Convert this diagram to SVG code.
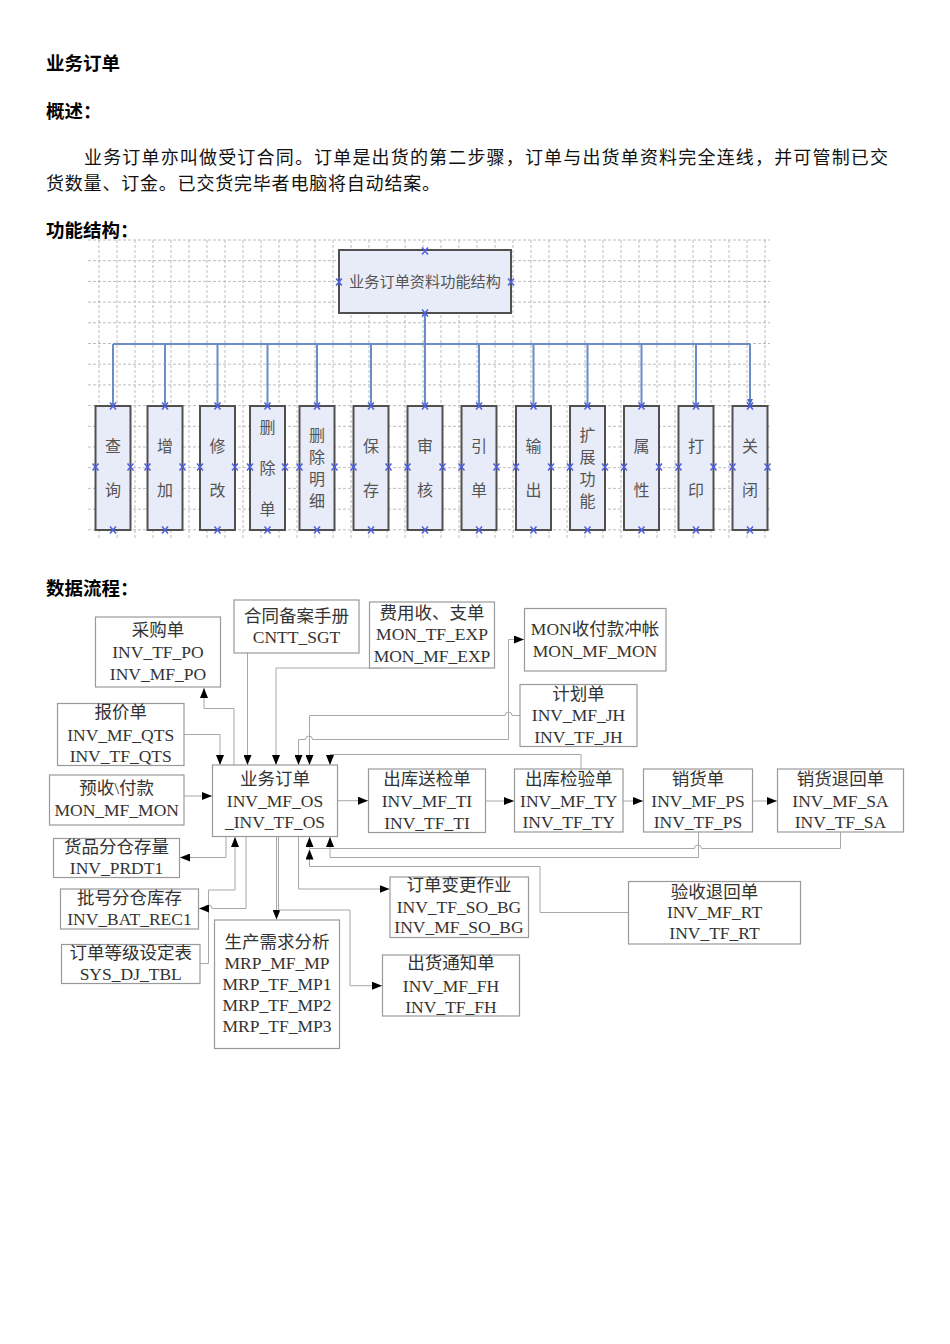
<svg xmlns="http://www.w3.org/2000/svg" xmlns:xlink="http://www.w3.org/1999/xlink" width="950" height="1344" viewBox="0 0 950 1344">
<style>
.hd{font-family:"Noto Sans CJK SC",sans-serif;font-weight:bold;font-size:18.5px;fill:#000}
.para{font-family:"Noto Sans CJK SC",sans-serif;font-size:18px;fill:#111}
.grid{fill:none;stroke:#bdbdbd;stroke-width:1;stroke-dasharray:3 2}
.fbox{fill:#e8ecf8;stroke:#505050;stroke-width:2}
.ft{font-family:"Noto Sans CJK SC",sans-serif;font-size:16px;fill:#555;text-anchor:middle}
.tree{fill:none;stroke:#6a8cc8;stroke-width:2}
.xm{fill:none;stroke:#4d5fe0;stroke-width:1.5}
.box{fill:#fff;stroke:#9a9a9a;stroke-width:1.2}
.t{font-family:"Liberation Serif","Noto Sans CJK SC",serif;font-size:17.5px;fill:#333;text-anchor:middle}
.c{fill:none;stroke:#a8a8a8;stroke-width:1}
.ca{fill:none;stroke:#a8a8a8;stroke-width:1;marker-end:url(#ah)}
</style>
<defs>
<marker id="ah" viewBox="0 0 10 8" refX="10" refY="4" markerWidth="10" markerHeight="8" markerUnits="userSpaceOnUse" orient="auto"><path d="M0,0L10,4L0,8z" fill="#000"/></marker>
<marker id="ba" viewBox="0 0 6 6" refX="6" refY="3" markerWidth="6" markerHeight="6" markerUnits="userSpaceOnUse" orient="auto"><path d="M0,0L6,3L0,6z" fill="#4a6fc0"/></marker>
<path id="x" d="M-3,-3.5L3,3.5M3,-3.5L-3,3.5"/>
</defs>

<g id="header">
<text class="hd" x="46" y="70">业务订单</text>
<text class="hd" x="46" y="118">概述：</text>
<text class="para" x="84" y="163.5" textLength="804" lengthAdjust="spacing">业务订单亦叫做受订合同。订单是出货的第二步骤，订单与出货单资料完全连线，并可管制已交</text>
<text class="para" x="46" y="189.5" textLength="394" lengthAdjust="spacing">货数量、订金。已交货完毕者电脑将自动结案。</text>
<text class="hd" x="46" y="237">功能结构：</text>
<text class="hd" x="46" y="595">数据流程：</text>
</g>

<g id="grid">
<path class="grid" d="M88 240H770M88 260.7H770M88 281.4H770M88 302.1H770M88 322.8H770M88 343.5H770M88 364.2H770M88 384.9H770M88 405.6H770M88 426.3H770M88 447H770M88 467.7H770M88 488.4H770M88 509.1H770M88 529.8H770"/>
<path class="grid" d="M99 240V540M117 240V540M135 240V540M153 240V540M171 240V540M189 240V540M207 240V540M225 240V540M243 240V540M261 240V540M279 240V540M297 240V540M315 240V540M333 240V540M351 240V540M369 240V540M387 240V540M405 240V540M423 240V540M441 240V540M459 240V540M477 240V540M495 240V540M513 240V540M531 240V540M549 240V540M567 240V540M585 240V540M603 240V540M621 240V540M639 240V540M657 240V540M675 240V540M693 240V540M711 240V540M729 240V540M747 240V540M765 240V540"/>
</g>

<g id="tree-connectors">
<path class="tree" d="M425 313V344M113 344H750"/>
<path class="tree" marker-end="url(#ba)" d="M113 344V405M165 344V405M217.5 344V405M267.5 344V405M317 344V405M371 344V405M425 344V405M479 344V405M533.5 344V405M587.5 344V405M641.5 344V405M696 344V405M750 344V405"/>
</g>

<g id="f-root">
<rect class="fbox" x="339" y="250" width="172" height="63"/>
<text class="ft" x="425" y="286.5" style="font-size:15.2px">业务订单资料功能结构</text>
<g class="xm"><use xlink:href="#x" x="425" y="251"/><use xlink:href="#x" x="339" y="282"/><use xlink:href="#x" x="511" y="282"/><use xlink:href="#x" x="425" y="313"/></g>
</g>

<g id="f-query"><rect class="fbox" x="95.5" y="406" width="35" height="124"/><text class="ft" x="113" y="452">查</text><text class="ft" x="113" y="496">询</text></g>
<g id="f-add"><rect class="fbox" x="147.5" y="406" width="35" height="124"/><text class="ft" x="165" y="452">增</text><text class="ft" x="165" y="496">加</text></g>
<g id="f-edit"><rect class="fbox" x="200" y="406" width="35" height="124"/><text class="ft" x="217.5" y="452">修</text><text class="ft" x="217.5" y="496">改</text></g>
<g id="f-delorder"><rect class="fbox" x="250" y="406" width="35" height="124"/><text class="ft" x="267.5" y="433">删</text><text class="ft" x="267.5" y="474">除</text><text class="ft" x="267.5" y="515">单</text></g>
<g id="f-deldetail"><rect class="fbox" x="299.5" y="406" width="35" height="124"/><text class="ft" x="317" y="441">删</text><text class="ft" x="317" y="463">除</text><text class="ft" x="317" y="485">明</text><text class="ft" x="317" y="507">细</text></g>
<g id="f-save"><rect class="fbox" x="353.5" y="406" width="35" height="124"/><text class="ft" x="371" y="452">保</text><text class="ft" x="371" y="496">存</text></g>
<g id="f-audit"><rect class="fbox" x="407.5" y="406" width="35" height="124"/><text class="ft" x="425" y="452">审</text><text class="ft" x="425" y="496">核</text></g>
<g id="f-ref"><rect class="fbox" x="461.5" y="406" width="35" height="124"/><text class="ft" x="479" y="452">引</text><text class="ft" x="479" y="496">单</text></g>
<g id="f-output"><rect class="fbox" x="516" y="406" width="35" height="124"/><text class="ft" x="533.5" y="452">输</text><text class="ft" x="533.5" y="496">出</text></g>
<g id="f-ext"><rect class="fbox" x="570" y="406" width="35" height="124"/><text class="ft" x="587.5" y="441">扩</text><text class="ft" x="587.5" y="463">展</text><text class="ft" x="587.5" y="485">功</text><text class="ft" x="587.5" y="507">能</text></g>
<g id="f-prop"><rect class="fbox" x="624" y="406" width="35" height="124"/><text class="ft" x="641.5" y="452">属</text><text class="ft" x="641.5" y="496">性</text></g>
<g id="f-print"><rect class="fbox" x="678.5" y="406" width="35" height="124"/><text class="ft" x="696" y="452">打</text><text class="ft" x="696" y="496">印</text></g>
<g id="f-close"><rect class="fbox" x="732.5" y="406" width="35" height="124"/><text class="ft" x="750" y="452">关</text><text class="ft" x="750" y="496">闭</text></g>

<g id="f-markers" class="xm">
<use xlink:href="#x" x="113" y="406"/><use xlink:href="#x" x="113" y="530"/><use xlink:href="#x" x="95.5" y="467"/><use xlink:href="#x" x="130.5" y="467"/>
<use xlink:href="#x" x="165" y="406"/><use xlink:href="#x" x="165" y="530"/><use xlink:href="#x" x="147.5" y="467"/><use xlink:href="#x" x="182.5" y="467"/>
<use xlink:href="#x" x="217.5" y="406"/><use xlink:href="#x" x="217.5" y="530"/><use xlink:href="#x" x="200" y="467"/><use xlink:href="#x" x="235" y="467"/>
<use xlink:href="#x" x="267.5" y="406"/><use xlink:href="#x" x="267.5" y="530"/><use xlink:href="#x" x="250" y="467"/><use xlink:href="#x" x="285" y="467"/>
<use xlink:href="#x" x="317" y="406"/><use xlink:href="#x" x="317" y="530"/><use xlink:href="#x" x="299.5" y="467"/><use xlink:href="#x" x="334.5" y="467"/>
<use xlink:href="#x" x="371" y="406"/><use xlink:href="#x" x="371" y="530"/><use xlink:href="#x" x="353.5" y="467"/><use xlink:href="#x" x="388.5" y="467"/>
<use xlink:href="#x" x="425" y="406"/><use xlink:href="#x" x="425" y="530"/><use xlink:href="#x" x="407.5" y="467"/><use xlink:href="#x" x="442.5" y="467"/>
<use xlink:href="#x" x="479" y="406"/><use xlink:href="#x" x="479" y="530"/><use xlink:href="#x" x="461.5" y="467"/><use xlink:href="#x" x="496.5" y="467"/>
<use xlink:href="#x" x="533.5" y="406"/><use xlink:href="#x" x="533.5" y="530"/><use xlink:href="#x" x="516" y="467"/><use xlink:href="#x" x="551" y="467"/>
<use xlink:href="#x" x="587.5" y="406"/><use xlink:href="#x" x="587.5" y="530"/><use xlink:href="#x" x="570" y="467"/><use xlink:href="#x" x="605" y="467"/>
<use xlink:href="#x" x="641.5" y="406"/><use xlink:href="#x" x="641.5" y="530"/><use xlink:href="#x" x="624" y="467"/><use xlink:href="#x" x="659" y="467"/>
<use xlink:href="#x" x="696" y="406"/><use xlink:href="#x" x="696" y="530"/><use xlink:href="#x" x="678.5" y="467"/><use xlink:href="#x" x="713.5" y="467"/>
<use xlink:href="#x" x="750" y="406"/><use xlink:href="#x" x="750" y="530"/><use xlink:href="#x" x="732.5" y="467"/><use xlink:href="#x" x="767.5" y="467"/>
</g>

<g id="connectors">
<path class="ca" d="M234 765V708.5H204V688"/>
<path class="ca" d="M247.5 653V765"/>
<path class="ca" d="M381.5 645V668H276V765"/>
<path class="ca" d="M184 734.5H220V765"/>
<path class="ca" d="M508.5 739.5H312.5A3.5 3.5 0 0 0 305.5 739.5H298.5V765"/>
<path class="ca" d="M508.5 739.5V639.5H524"/>
<path class="ca" d="M520 715.5H512A3.5 3.5 0 0 0 505 715.5H309.5V765"/>
<path class="ca" d="M581 769V754.5H330V765"/>
<path class="ca" d="M184 796H212"/>
<path class="ca" d="M337.5 800.7H368"/>
<path class="ca" d="M485.5 801H514"/>
<path class="ca" d="M623 801H643"/>
<path class="ca" d="M752.5 801H777"/>
<path class="ca" d="M226 836.5V857.5H180"/>
<path class="ca" d="M190 963.5H208.5V890H235V837"/>
<path class="ca" d="M246 836.5V908.5H212A3.5 3.5 0 0 0 205 908.5H199"/>
<path class="ca" d="M276.5 836.5V919.5"/>
<path class="ca" d="M278.5 836.5V910H350V985.7H382"/>
<path class="ca" d="M298.5 836.5V889H389.5"/>
<path class="ca" d="M840.5 832V848.5H701.5A3.5 3.5 0 0 0 694.5 848.5H309.5V837"/>
<path class="ca" d="M698.5 832V857.5H330V837"/>
<path class="ca" d="M628.5 912.5H540V866.5H309.5V849.5"/>
</g>

<g id="n-po"><rect class="box" x="95.5" y="617" width="125" height="70"/><text class="t" x="158" y="636">采购单</text><text class="t" x="158" y="658">INV_TF_PO</text><text class="t" x="158" y="680">INV_MF_PO</text></g>
<g id="n-contract"><rect class="box" x="234" y="600" width="125" height="53"/><text class="t" x="296.5" y="621.7">合同备案手册</text><text class="t" x="296.5" y="643.3">CNTT_SGT</text></g>
<g id="n-exp"><rect class="box" x="369.5" y="602" width="125" height="66"/><text class="t" x="432" y="619.3">费用收、支单</text><text class="t" x="432" y="640.3">MON_TF_EXP</text><text class="t" x="432" y="661.7">MON_MF_EXP</text></g>
<g id="n-mon"><rect class="box" x="524.5" y="608.5" width="141.5" height="62.5"/><text class="t" x="595" y="635.3">MON收付款冲帐</text><text class="t" x="595" y="657">MON_MF_MON</text></g>
<g id="n-jh"><rect class="box" x="520" y="684.5" width="117" height="62"/><text class="t" x="578.5" y="700">计划单</text><text class="t" x="578.5" y="721">INV_MF_JH</text><text class="t" x="578.5" y="742.7">INV_TF_JH</text></g>
<g id="n-qts"><rect class="box" x="57.5" y="703.5" width="126.5" height="62"/><text class="t" x="120.7" y="717.7">报价单</text><text class="t" x="120.7" y="741">INV_MF_QTS</text><text class="t" x="120.7" y="762">INV_TF_QTS</text></g>
<g id="n-prepay"><rect class="box" x="49.5" y="775" width="134.5" height="50"/><text class="t" x="116.7" y="794.3">预收\付款</text><text class="t" x="116.7" y="816">MON_MF_MON</text></g>
<g id="n-os"><rect class="box" x="212.5" y="765" width="125" height="71.5"/><text class="t" x="275" y="785.3">业务订单</text><text class="t" x="275" y="806.7">INV_MF_OS</text><text class="t" x="275" y="827.7">_INV_TF_OS</text></g>
<g id="n-ti"><rect class="box" x="368.5" y="769" width="117" height="63.5"/><text class="t" x="427" y="785.3">出库送检单</text><text class="t" x="427" y="807">INV_MF_TI</text><text class="t" x="427" y="828.7">INV_TF_TI</text></g>
<g id="n-ty"><rect class="box" x="514.5" y="769" width="108.5" height="63"/><text class="t" x="568.7" y="785.3">出库检验单</text><text class="t" x="568.7" y="807">INV_MF_TY</text><text class="t" x="568.7" y="827.7">INV_TF_TY</text></g>
<g id="n-ps"><rect class="box" x="643.5" y="769" width="109" height="63"/><text class="t" x="698" y="785.3">销货单</text><text class="t" x="698" y="807">INV_MF_PS</text><text class="t" x="698" y="827.7">INV_TF_PS</text></g>
<g id="n-sa"><rect class="box" x="777.5" y="769" width="126" height="63"/><text class="t" x="840.5" y="785.3">销货退回单</text><text class="t" x="840.5" y="807">INV_MF_SA</text><text class="t" x="840.5" y="827.7">INV_TF_SA</text></g>
<g id="n-rt"><rect class="box" x="628.5" y="881.5" width="172" height="62.5"/><text class="t" x="714.5" y="897.7">验收退回单</text><text class="t" x="714.5" y="918.3">INV_MF_RT</text><text class="t" x="714.5" y="939.3">INV_TF_RT</text></g>
<g id="n-prdt"><rect class="box" x="53.5" y="838.5" width="126" height="39"/><text class="t" x="116.5" y="852.7">货品分仓存量</text><text class="t" x="116.5" y="874.3">INV_PRDT1</text></g>
<g id="n-bat"><rect class="box" x="60.5" y="889" width="138" height="40"/><text class="t" x="129.5" y="903.7">批号分仓库存</text><text class="t" x="129.5" y="925.3">INV_BAT_REC1</text></g>
<g id="n-dj"><rect class="box" x="61.5" y="944.5" width="138.5" height="39"/><text class="t" x="130.7" y="959.3">订单等级设定表</text><text class="t" x="130.7" y="980">SYS_DJ_TBL</text></g>
<g id="n-mrp"><rect class="box" x="214.5" y="920" width="125" height="128.5"/><text class="t" x="277" y="947.7">生产需求分析</text><text class="t" x="277" y="969.3">MRP_MF_MP</text><text class="t" x="277" y="990">MRP_TF_MP1</text><text class="t" x="277" y="1011">MRP_TF_MP2</text><text class="t" x="277" y="1032">MRP_TF_MP3</text></g>
<g id="n-bg"><rect class="box" x="390" y="877" width="138.5" height="60.5"/><text class="t" x="459" y="891">订单变更作业</text><text class="t" x="459" y="912.7">INV_TF_SO_BG</text><text class="t" x="459" y="933.3">INV_MF_SO_BG</text></g>
<g id="n-fh"><rect class="box" x="382.5" y="955" width="137" height="61"/><text class="t" x="451" y="969.3">出货通知单</text><text class="t" x="451" y="991.7">INV_MF_FH</text><text class="t" x="451" y="1012.7">INV_TF_FH</text></g>
</svg>
